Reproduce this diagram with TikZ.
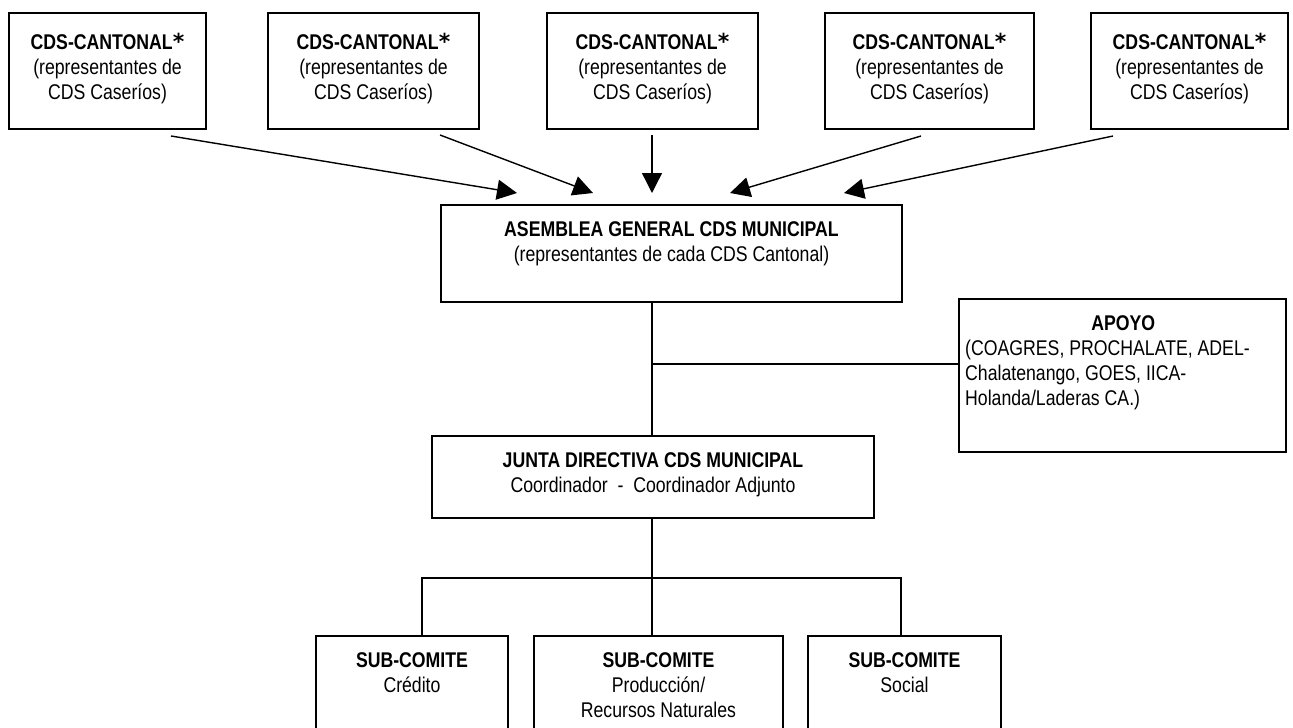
\documentclass[tikz,border=0pt]{standalone}
\usepackage{fontspec}
\setmainfont{Liberation Sans}[FakeStretch=0.83]
\newfontfamily\astfont{DejaVu Sans}
\usetikzlibrary{arrows.meta}
\newcommand\fstrut{\rule{0pt}{20pt}}
\newcommand\cantonal{\fstrut\textbf{CDS-CANTONAL}{\astfont\bfseries\fontsize{22}{22}\selectfont *}\\(representantes de\\CDS Caseríos)}
\begin{document}
\begin{tikzpicture}[x=1pt,y=-1pt,
  box/.style={draw,line width=1.5pt,inner sep=0pt},
  txt/.style={inner sep=0pt,align=center,font=\fontsize{21.3}{25}\selectfont},
  link/.style={line width=1.5pt},
  arr/.style={line width=1.4pt,-{Triangle[length=20pt,width=20pt]}}]
\useasboundingbox (0,0) rectangle (1293,728);
\clip (0,0) rectangle (1293,728);
% top boxes
\node[box,minimum width=197pt,minimum height=116pt] (b1) at (107.5,71) {};
\node[box,minimum width=211pt,minimum height=116pt] (b2) at (373.5,71) {};
\node[box,minimum width=211pt,minimum height=116pt] (b3) at (652.5,71) {};
\node[box,minimum width=209pt,minimum height=116pt] (b4) at (929.5,71) {};
\node[box,minimum width=197pt,minimum height=116pt] (b5) at (1189.5,71) {};
\node[txt,anchor=north] (t1) at (107.5,29) {\cantonal};
\node[txt,anchor=north] (t2) at (373.5,29) {\cantonal};
\node[txt,anchor=north] (t3) at (652.5,29) {\cantonal};
\node[txt,anchor=north] (t4) at (929.5,29) {\cantonal};
\node[txt,anchor=north] (t5) at (1189.5,29) {\cantonal};
% asamblea
\node[box,minimum width=461pt,minimum height=97pt] (asam) at (671.5,253.5) {};
\node[txt,anchor=north] (tasam) at (671.5,216) {\fstrut\textbf{ASEMBLEA GENERAL CDS MUNICIPAL}\\(representantes de cada CDS Cantonal)};
% apoyo
\node[box,minimum width=327pt,minimum height=153pt] (apoyo) at (1122.5,375.5) {};
\node[txt,anchor=north west,align=left] (tapoyo) at (965,310) {\makebox[316pt]{\fstrut\textbf{APOYO}}\\(COAGRES, PROCHALATE, ADEL-\\Chalatenango, GOES, IICA-\\Holanda/Laderas CA.)};
% junta
\node[box,minimum width=442pt,minimum height=82pt] (junta) at (653,477) {};
\node[txt,anchor=north] (tjunta) at (653,447) {\fstrut\textbf{JUNTA DIRECTIVA CDS MUNICIPAL}\\Coordinador\ \ -\ \ Coordinador Adjunto};
% sub-comites
\node[box,minimum width=192pt,minimum height=109pt] (s1) at (412,690.5) {};
\node[box,minimum width=249pt,minimum height=109pt] (s2) at (658.5,690.5) {};
\node[box,minimum width=193pt,minimum height=109pt] (s3) at (904.5,690.5) {};
\node[txt,anchor=north] (ts1) at (412,647) {\fstrut\textbf{SUB-COMITE}\\Crédito};
\node[txt,anchor=north] (ts2) at (658.5,647) {\fstrut\textbf{SUB-COMITE}\\Producción/\\Recursos Naturales};
\node[txt,anchor=north] (ts3) at (904.5,647) {\fstrut\textbf{SUB-COMITE}\\Social};
% arrows
\coordinate (a1s) at (171,136); \coordinate (a1e) at (517,193);
\coordinate (a2s) at (440,135); \coordinate (a2e) at (593,193);
\coordinate (a3s) at (652,135); \coordinate (a3e) at (652,193);
\coordinate (a4s) at (921,136); \coordinate (a4e) at (730,193);
\coordinate (a5s) at (1113,136); \coordinate (a5e) at (844,193);
\draw[arr] (a1s) -- (a1e);
\draw[arr] (a2s) -- (a2e);
\draw[arr] (a3s) -- (a3e);
\draw[arr] (a4s) -- (a4e);
\draw[arr] (a5s) -- (a5e);
% connectors
\coordinate (j1) at (652,364);
\draw[link] (asam.south -| j1) -- (junta.north -| j1);
\draw[link] (j1) -- (apoyo.west |- j1);
\coordinate (k) at (652,578);
\coordinate (k1) at (422,578);
\coordinate (k3) at (901,578);
\draw[link] (junta.south -| k) -- (k);
\draw[link] (s1.north -| k1) -- (k1) -- (k3) -- (s3.north -| k3);
\draw[link] (k) -- (s2.north -| k);
\end{tikzpicture}
\end{document}
